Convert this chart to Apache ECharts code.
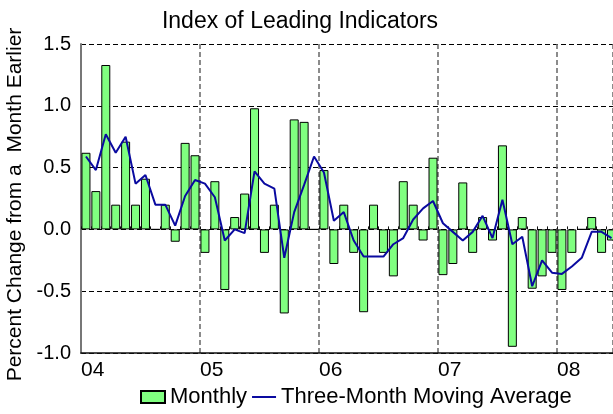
<!DOCTYPE html>
<html>
<head>
<meta charset="utf-8">
<script src="https://cdn.jsdelivr.net/npm/echarts@6/dist/echarts.min.js"></script>
<style>html,body{margin:0;padding:0;background:#fff}#c{width:613px;height:414px}</style>
</head>
<body>
<div id="c"></div>
<script>
// Month index 0 = Jan 2004 ... 53 = Jun 2008
var yearLabels = ['04', '05', '06', '07', '08'];
var monthly = [
  0.62, 0.31, 1.33, 0.20, 0.71, 0.20, 0.41, 0.00, 0.20, -0.10, 0.70, 0.60,
  -0.19, 0.39, -0.49, 0.10, 0.29, 0.98, -0.19, 0.20, -0.68, 0.89, 0.87, 0.00,
  0.48, -0.28, 0.20, -0.19, -0.67, 0.20, -0.19, -0.38, 0.39, 0.20, -0.09, 0.58,
  -0.37, -0.28, 0.38, -0.19, 0.10, -0.09, 0.68, -0.95, 0.10, -0.48, -0.38, -0.19,
  -0.49, -0.19, 0.00, 0.10, -0.19, -0.09
];
var movingAvg = [
  0.59, 0.48, 0.77, 0.62, 0.75, 0.37, 0.44, 0.20, 0.20, 0.03, 0.27, 0.40,
  0.37, 0.26, -0.09, 0.00, -0.03, 0.47, 0.37, 0.33, -0.23, 0.14, 0.36, 0.59,
  0.46, 0.07, 0.14, -0.09, -0.22, -0.22, -0.22, -0.12, -0.07, 0.08, 0.17, 0.23,
  0.05, -0.02, -0.09, -0.02, 0.11, -0.07, 0.24, -0.12, -0.06, -0.46, -0.25, -0.35,
  -0.36, -0.30, -0.23, -0.02, -0.02, -0.07
];
var yTicks = [-1.0, -0.5, 0.0, 0.5, 1.0, 1.5];

var barData = monthly.map(function (v, i) { return [i + 0.5, v]; });
var lineData = movingAvg.map(function (v, i) { return [i + 0.5, v]; });

var font = 'Liberation Sans, Arial, sans-serif';
var chart = echarts.init(document.getElementById('c'), null, {renderer: 'canvas'});
chart.setOption({
  animation: false,
  backgroundColor: '#fff',
  title: {
    text: 'Index of Leading Indicators',
    left: 295, top: 5, textAlign: 'center',
    textStyle: {fontFamily: font, fontSize: 23, fontWeight: 'normal', color: '#000'}
  },
  legend: {
    left: 135, bottom: 1,
    itemWidth: 24, itemHeight: 12, itemGap: 4,
    textStyle: {fontFamily: font, fontSize: 22, color: '#000'},
    data: [
      {name: 'Monthly', icon: 'rect'},
      {name: 'Three-Month Moving Average', itemStyle: {opacity: 0}}
    ]
  },
  grid: {left: 81, right: 0, top: 44, bottom: 61, containLabel: false, outerBoundsMode: 'none'},
  xAxis: [{
    type: 'value', min: 0, max: 53.65, interval: 12,
    axisLine: {show: true, onZero: false, lineStyle: {color: '#111', width: 1.5}},
    axisTick: {show: false},
    splitLine: {show: true, lineStyle: {color: '#666', width: 1.5, type: [5, 3]}},
    axisLabel: {
      show: true, align: 'left', margin: 7, showMaxLabel: false,
      fontFamily: font, fontSize: 21, color: '#000',
      formatter: function (v) {
        var k = Math.round(v / 12);
        return (Math.abs(v - k * 12) < 1e-6 && yearLabels[k]) ? yearLabels[k] : '';
      }
    }
  }, {
    type: 'value', min: 0, max: 53.65, interval: 1, position: 'bottom',
    axisLine: {show: false},
    axisTick: {show: true, inside: true, length: 3, lineStyle: {color: '#111', width: 1}},
    splitLine: {show: false},
    axisLabel: {show: false}
  }],
  yAxis: {
    type: 'value', min: yTicks[0], max: yTicks[yTicks.length - 1], interval: 0.5,
    name: 'Percent Change from a  Month Earlier',
    nameLocation: 'middle', nameRotate: 90, nameGap: 52,
    nameTextStyle: {fontFamily: font, fontSize: 21, color: '#000', padding: [0, 12, 0, 0]},
    axisLine: {show: true, lineStyle: {color: '#777', width: 2}},
    axisTick: {show: false},
    splitLine: {show: true, lineStyle: {color: '#000', width: 1, type: [5, 3]}},
    axisLabel: {
      margin: 10, fontFamily: font, fontSize: 20, color: '#000',
      formatter: function (v) { return v.toFixed(1); }
    }
  },
  series: [{
    name: 'Monthly', type: 'bar', xAxisIndex: 0,
    data: barData, barWidth: 9,
    itemStyle: {color: '#80FF80', borderColor: '#000', borderWidth: 1}
  }, {
    name: 'Three-Month Moving Average', type: 'line', xAxisIndex: 0,
    data: lineData, symbol: 'none',
    lineStyle: {color: '#0A0AA0', width: 2},
    itemStyle: {color: '#0A0AA0'}
  }]
});
</script>
</body>
</html>
